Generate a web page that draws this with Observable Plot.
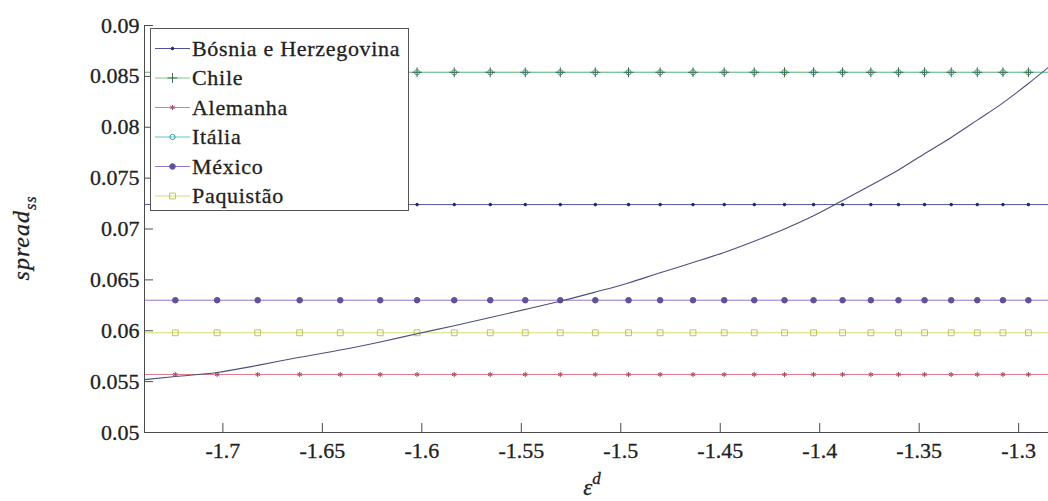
<!DOCTYPE html>
<html>
<head>
<meta charset="utf-8">
<script src="https://cdn.jsdelivr.net/npm/d3@7"></script>
<script src="https://cdn.jsdelivr.net/npm/@observablehq/plot@0.6"></script>
<style>
  body { margin: 0; background: #fff; }
  #chart { width: 1048px; height: 501px; overflow: hidden; }
  #chart text { stroke: #222; stroke-width: 0.3px; }
</style>
</head>
<body>
<div id="chart"></div>
<script>
// Elasticity grid where each country's spread is marked
const epsGrid = [
  -1.7239, -1.7029, -1.6825, -1.6614, -1.6410, -1.6209, -1.6024, -1.5837,
  -1.5656, -1.5480, -1.5304, -1.5128, -1.4961, -1.4802, -1.4637, -1.4480,
  -1.4329, -1.4177, -1.4031, -1.3885, -1.3743, -1.3604, -1.3473, -1.3339,
  -1.3208, -1.3079, -1.2951
];

// Steady-state spread as a function of the elasticity
const curveEps = [
  -1.7394, -1.7239, -1.7029, -1.6825, -1.6614, -1.6410, -1.6209, -1.6024,
  -1.5837, -1.5656, -1.5480, -1.5304, -1.5128, -1.4961, -1.4802, -1.4637,
  -1.4480, -1.4329, -1.4177, -1.4031, -1.3885, -1.3743, -1.3604, -1.3473,
  -1.3339, -1.3208, -1.3079, -1.2951, -1.2850
];
const curveSpread = [
  0.0552, 0.0555, 0.0559, 0.0566, 0.0574, 0.0581, 0.0589, 0.0597,
  0.0605, 0.0613, 0.0621, 0.0629, 0.0638, 0.0647, 0.0657, 0.0667,
  0.0677, 0.0688, 0.0700, 0.0713, 0.0728, 0.0743, 0.0758, 0.0774,
  0.0790, 0.0807, 0.0824, 0.0843, 0.0859
];

// Observed spreads by country
const countries = ["Bósnia e Herzegovina", "Chile", "Alemanha", "Itália", "México", "Paquistão"];
const countrySpread = [0.0724, 0.0854, 0.0557, 0.0854, 0.0630, 0.0598];

// Axis ticks
const xTicks = [-1.7, -1.65, -1.6, -1.55, -1.5, -1.45, -1.4, -1.35, -1.3];
const xTickLabels = ["-1.7", "-1.65", "-1.6", "-1.55", "-1.5", "-1.45", "-1.4", "-1.35", "-1.3"];
const yTicks = [0.05, 0.055, 0.06, 0.065, 0.07, 0.075, 0.08, 0.085, 0.09];
const yTickLabels = ["0.05", "0.055", "0.06", "0.065", "0.07", "0.075", "0.08", "0.085", "0.09"];

// Series styling
const lineColors   = ["#50559a", "#7cc88a", "#e07b8a", "#5cc8cc", "#9d74c4", "#d6dc72"];
const markerColors = ["#23265a", "#3f6b45", "#9a4a6a", "#3a9aa0", "#5f5296", "#bcc45a"];
const markerSymbols = ["circle", "plus", "asterisk", "circle", "circle", "square"];
const markerRadius = [1.3, 3.3, 2.4, 2.6, 2.8, 3.3];
const markerFilled = [true, false, false, false, true, false];
const drawOrder = [3, 1, 0, 2, 4, 5]; // Itália sits under Chile
const curveColor = "#4d4f7c";
const axisColor = "#4a4a4a";
const textColor = "#222";

// Pick the first Times-like face that is actually installed
function fontInstalled(name) {
  const ctx = document.createElement("canvas").getContext("2d");
  const sample = "Bósnia e Herzegovina 0.085 mwil";
  return ["monospace", "sans-serif"].some(base => {
    ctx.font = `40px ${base}`;
    const w0 = ctx.measureText(sample).width;
    ctx.font = `40px "${name}", ${base}`;
    return Math.abs(ctx.measureText(sample).width - w0) > 0.5;
  });
}
const serifCandidates = ["Liberation Serif", "Times New Roman", "Tinos", "Times", "DejaVu Serif", "Noto Serif", "FreeSerif"];
const serifFace = serifCandidates.find(fontInstalled) || "serif";
const serif = `"${serifFace}", serif`;

// Keep text widths close to Times metrics at 22px
const fontScale = (() => {
  const ctx = document.createElement("canvas").getContext("2d");
  ctx.font = `22px ${serif}`;
  const w = ctx.measureText("Bósnia e Herzegovina").width;
  return Math.min(1.05, Math.max(0.8, 194.3 / w));
})();
const fs = size => Math.round(size * fontScale * 10) / 10;

const xDomain = [-1.7394, -1.285];
const yDomain = [0.05, 0.09];

const seriesMarks = drawOrder.flatMap(i => [
  Plot.ruleY([countrySpread[i]], {stroke: lineColors[i], strokeWidth: 1}),
  Plot.dot(epsGrid, {
    x: d => d,
    y: () => countrySpread[i],
    symbol: markerSymbols[i],
    r: markerRadius[i],
    stroke: markerColors[i],
    strokeWidth: 1,
    fill: markerFilled[i] ? markerColors[i] : "none"
  })
]);

const chart = Plot.plot({
  width: 1048,
  height: 501,
  marginLeft: 144,
  marginRight: 0,
  marginTop: 25,
  marginBottom: 69,
  x: {domain: xDomain, axis: null},
  y: {domain: yDomain, axis: null},
  style: {fontFamily: serif, fontSize: `${fs(22)}px`, color: textColor, background: "#fff", overflow: "hidden"},
  marks: [
    ...seriesMarks,
    Plot.line(curveEps.map((e, k) => ({eps: e, spread: curveSpread[k]})), {
      x: "eps", y: "spread", stroke: curveColor, strokeWidth: 1.1, curve: "monotone-x"
    }),
    // axes: left and bottom lines with inward ticks
    Plot.ruleY([yDomain[0]], {stroke: axisColor}),
    Plot.ruleX([xDomain[0]], {stroke: axisColor}),
    Plot.ruleX(xTicks, {x: d => d, y1: () => yDomain[0], y2: () => yDomain[0], insetTop: -9, stroke: axisColor}),
    Plot.ruleY(yTicks, {y: d => d, x1: () => xDomain[0], x2: () => xDomain[0], insetRight: -9, stroke: axisColor}),
    Plot.text(xTicks, {
      x: d => d, frameAnchor: "bottom", dy: 18, text: (d, i) => xTickLabels[i],
      fontSize: fs(22), fontFamily: serif, fill: textColor, lineAnchor: "middle"
    }),
    Plot.text(yTicks, {
      y: d => d, frameAnchor: "left", dx: -5, textAnchor: "end", text: (d, i) => yTickLabels[i],
      fontSize: fs(22), fontFamily: serif, fill: textColor, lineAnchor: "middle"
    })
  ]
});

document.getElementById("chart").appendChild(chart);

const svg = d3.select(chart);

// Legend box
const symbolTypes = {
  circle: d3.symbolCircle, plus: d3.symbolPlus, asterisk: d3.symbolAsterisk, square: d3.symbolSquare
};
const legend = svg.append("g")
  .style("font-family", serif)
  .attr("font-size", fs(22))
  .attr("text-anchor", "start")
  .attr("fill", textColor);
legend.append("rect")
  .attr("x", 150.5).attr("y", 28.5)
  .attr("width", 258).attr("height", 182)
  .attr("fill", "#fff").attr("stroke", "#555");
countries.forEach((name, i) => {
  const cy = 48.5 + i * 29.5;
  legend.append("line")
    .attr("x1", 155).attr("x2", 190).attr("y1", cy).attr("y2", cy)
    .attr("stroke", lineColors[i]);
  legend.append("path")
    .attr("transform", `translate(172.5,${cy})`)
    .attr("d", d3.symbol(symbolTypes[markerSymbols[i]], Math.PI * markerRadius[i] ** 2)())
    .attr("stroke", markerColors[i])
    .attr("fill", markerFilled[i] ? markerColors[i] : "none");
  legend.append("text")
    .attr("x", 192).attr("y", cy).attr("dy", "0.34em")
    .attr("text-anchor", "start")
    .attr("letter-spacing", 0.7)
    .text(name);
});

// Axis titles
const xTitle = svg.append("text")
  .style("font-family", serif).attr("font-size", fs(23)).attr("font-style", "italic")
  .attr("fill", textColor).attr("text-anchor", "middle")
  .attr("x", 592).attr("y", 495);
xTitle.append("tspan").text("ε");
xTitle.append("tspan").attr("dy", -11).attr("font-size", fs(17)).text("d");

const yTitle = svg.append("text")
  .style("font-family", serif).attr("font-size", fs(24)).attr("font-style", "italic")
  .attr("fill", textColor).attr("text-anchor", "middle")
  .attr("letter-spacing", 1)
  .attr("transform", "translate(29,238) rotate(-90)");
yTitle.append("tspan").text("spread");
yTitle.append("tspan").attr("dy", 7).attr("font-size", fs(16)).text("ss");
</script>
</body>
</html>
